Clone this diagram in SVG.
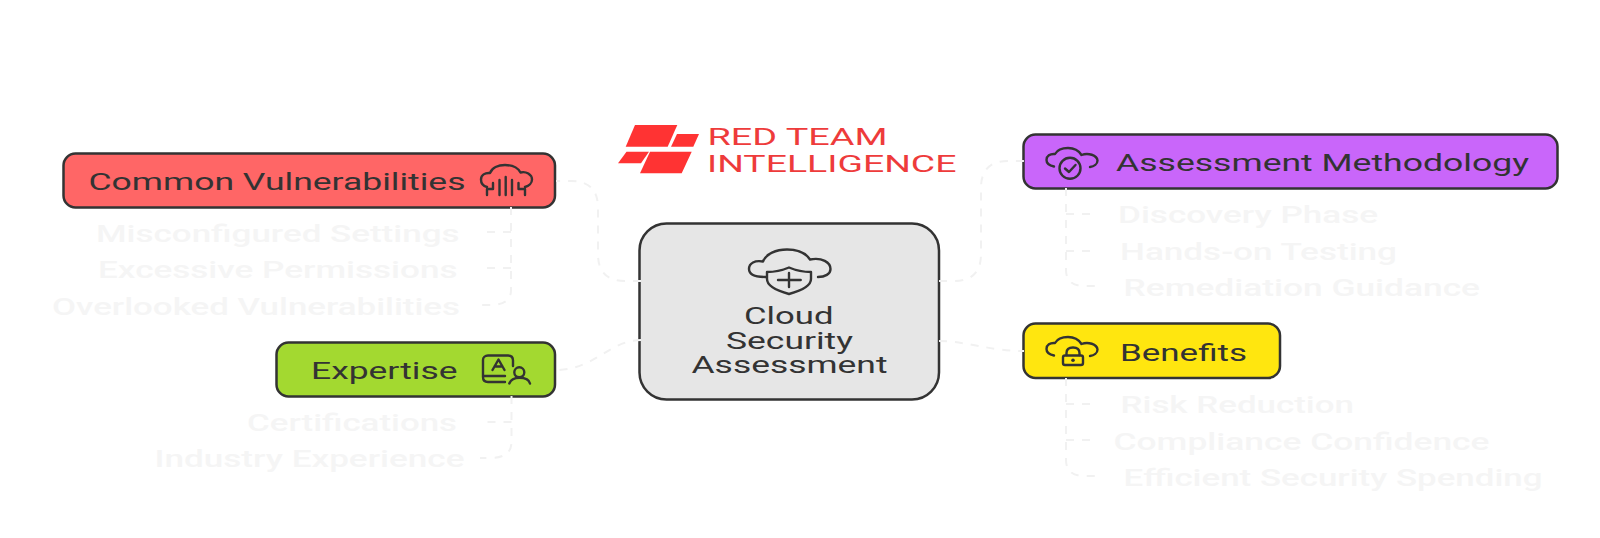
<svg xmlns="http://www.w3.org/2000/svg" width="1600" height="538" viewBox="0 0 1600 538">
<style>
text{font-family:Roboto,"Liberation Sans",sans-serif;font-weight:400}
.t{font-size:23px;fill:#333}
.f{font-size:23px;fill:#f5f5f5;font-weight:500}
.b{stroke:#333;stroke-width:2.5}
.i{fill:none;stroke:#333;stroke-width:2.4;stroke-linecap:round;stroke-linejoin:round}
.c{fill:none;stroke:#f1f1f1;stroke-width:2;stroke-dasharray:8 8}
.l{font-size:23px;fill:#ee3b3b;font-weight:400}
</style>
<defs>
<path id="cloud" d="M1054,166.500 C1049,165.500 1046.500,163 1046.500,160 C1046.500,156 1050,153.500 1055,154 C1057,150.500 1062,148 1068,148 C1075,148 1079,151 1081.500,155 C1088,152.500 1097,155 1097.500,160.500 C1097.500,164 1094,166.500 1090,167"/>
</defs>
<rect width="1600" height="538" fill="#fff"/>
<g id="logo">
<polygon points="635,125 677.300,125 667.700,146.700 625.700,146.700" fill="#ff3333"/>
<polygon points="677,134 699,134 693.300,146.700 671,146.700" fill="#ff3333"/>
<polygon points="626.500,151.700 649,151.700 641,163.300 618,163.300" fill="#ff3333"/>
<polygon points="650,151.700 691.700,151.700 681.700,173.300 640,173.300" fill="#ff3333"/>
<text class="l" x="707.500" y="144.500" textLength="180" lengthAdjust="spacingAndGlyphs">RED TEAM</text>
<text class="l" x="707" y="171.500" textLength="249.500" lengthAdjust="spacingAndGlyphs">INTELLIGENCE</text>
</g>
<g id="node-center">
<rect class="b" x="639.500" y="223.500" width="299.500" height="176" rx="27" fill="#e6e6e6"/>
<path class="i" d="M765.700,277 C755,277 749,274 749,269 C749,263 755,260 763,261.500 C766,254 776,249.500 787,249.500 C798,249.500 806,253.500 810,259.500 C822,257 830.500,262.500 830.500,269 C830.500,274 825,277 818,277"/>
<path class="i" d="M767,272 C775,272 783,270 789,267.500 C795,270 803,272 811,272 V279 C811,286 800,291 789,294 C778,291 767,286 767,279 Z"/>
<path class="i" d="M778,280 H800.700 M789,273 V287"/>
<text class="t" x="744" y="323.500" textLength="89.500" lengthAdjust="spacingAndGlyphs">Cloud</text>
<text class="t" x="726" y="348.500" textLength="127" lengthAdjust="spacingAndGlyphs">Security</text>
<text class="t" x="691.500" y="372.500" textLength="196" lengthAdjust="spacingAndGlyphs">Assessment</text>
</g>
<g id="node-vulnerabilities">
<rect class="b" x="63.500" y="153.500" width="491.500" height="54" rx="12" fill="#ff6666"/>
<text class="t" x="88.500" y="189.500" textLength="377" lengthAdjust="spacingAndGlyphs">Common Vulnerabilities</text>
<path class="i" d="M487,187 C483,186 481,183 481,179.500 C481,175 485,172.500 490,173 C492,168 498,165 505,165 C512,165 518,168 520.500,172.500 C526,171 532,174.500 532,179.500 C532,183 529,186 525,187"/>
<path class="i" d="M505.700,177 V195 M499.500,180 V195 M512,180 V195 M493,183 V189 H487 V195 M518.500,183 V189 H525 V195"/>
</g>
<g id="leaf-misconfigured"><text class="f" x="96" y="241.500" textLength="363.500" lengthAdjust="spacingAndGlyphs">Misconfigured Settings</text></g>
<g id="leaf-permissions"><text class="f" x="98" y="278" textLength="359.500" lengthAdjust="spacingAndGlyphs">Excessive Permissions</text></g>
<g id="leaf-overlooked"><text class="f" x="52" y="314.500" textLength="408" lengthAdjust="spacingAndGlyphs">Overlooked Vulnerabilities</text></g>
<g id="node-expertise">
<rect class="b" x="276.500" y="342.500" width="278.500" height="54" rx="12" fill="#a3d930"/>
<text class="t" x="311" y="378.500" textLength="146.500" lengthAdjust="spacingAndGlyphs">Expertise</text>
<path class="i" d="M505,382 H488 C485,382 483,380 483,377 V360 C483,357.500 485,355.500 488,355.500 H508 C511,355.500 513,357.500 513,360.500 V366 M484,376 H505 M492.500,370 L498.500,359.500 L504.500,370 M494.500,366.500 H502.500"/>
<circle class="i" cx="519.300" cy="372.300" r="5"/>
<path class="i" d="M509.300,383.500 C511,379 515,377.700 519.500,377.700 C525,377.700 529,379 530,383.500"/>
</g>
<g id="leaf-certifications"><text class="f" x="247" y="430.500" textLength="210" lengthAdjust="spacingAndGlyphs">Certifications</text></g>
<g id="leaf-industry"><text class="f" x="154.500" y="467" textLength="310" lengthAdjust="spacingAndGlyphs">Industry Experience</text></g>
<g id="node-methodology">
<rect class="b" x="1023.500" y="134.500" width="534" height="54" rx="12" fill="#c966fa"/>
<use href="#cloud" class="i"/>
<circle class="i" cx="1070" cy="168.300" r="10.500"/>
<path class="i" d="M1065,168.500 L1069,172 L1075.500,165"/>
<text class="t" x="1116" y="170.500" textLength="413" lengthAdjust="spacingAndGlyphs">Assessment Methodology</text>
</g>
<g id="leaf-discovery"><text class="f" x="1118" y="223" textLength="260" lengthAdjust="spacingAndGlyphs">Discovery Phase</text></g>
<g id="leaf-hands"><text class="f" x="1120" y="259.500" textLength="277" lengthAdjust="spacingAndGlyphs">Hands-on Testing</text></g>
<g id="leaf-remediation"><text class="f" x="1123.500" y="296" textLength="356.500" lengthAdjust="spacingAndGlyphs">Remediation Guidance</text></g>
<g id="node-benefits">
<rect class="b" x="1023.500" y="323.500" width="256.500" height="54.500" rx="12" fill="#ffe60f"/>
<use href="#cloud" class="i" transform="translate(0 189)"/>
<rect class="i" x="1063" y="355.500" width="20" height="9.500" rx="2"/>
<path class="i" d="M1066.500,355 V353 C1066.500,349 1069,347.500 1073,347.500 C1077,347.500 1079.500,349 1079.500,353 V355"/>
<circle cx="1073" cy="360.300" r="1.800" fill="#333"/>
<text class="t" x="1120" y="360.500" textLength="127" lengthAdjust="spacingAndGlyphs">Benefits</text>
</g>
<g id="leaf-risk"><text class="f" x="1120.500" y="412.500" textLength="233.500" lengthAdjust="spacingAndGlyphs">Risk Reduction</text></g>
<g id="leaf-compliance"><text class="f" x="1113.500" y="449.500" textLength="376" lengthAdjust="spacingAndGlyphs">Compliance Confidence</text></g>
<g id="leaf-efficient"><text class="f" x="1123.500" y="486" textLength="419" lengthAdjust="spacingAndGlyphs">Efficient Security Spending</text></g>
<g id="connectors">
<path class="c" d="M641,281 H625 Q598,281 598,254 V208 Q598,181 571,181 H556"/>
<path class="c" d="M641,340 C610,340 595,369 558,370"/>
<path class="c" d="M939,281 H954 Q981,281 981,254 V188 Q981,161 1008,161 H1024"/>
<path class="c" d="M939,341 C965,341 990,351 1024,351"/>
<path class="c" d="M511,207 V290 Q511,305 490,305 H479 M511,232 H479 M511,268 H479"/>
<path class="c" d="M511.500,396 V442 Q511.500,458 490,458 H480 M511.500,422 H480"/>
<path class="c" d="M1066,188 V270 Q1066,286 1085,286 H1098 M1066,214 H1098 M1066,251 H1098"/>
<path class="c" d="M1066,378 V460 Q1066,476 1085,476 H1098 M1066,404 H1098 M1066,440 H1098"/>
</g>
</svg>
